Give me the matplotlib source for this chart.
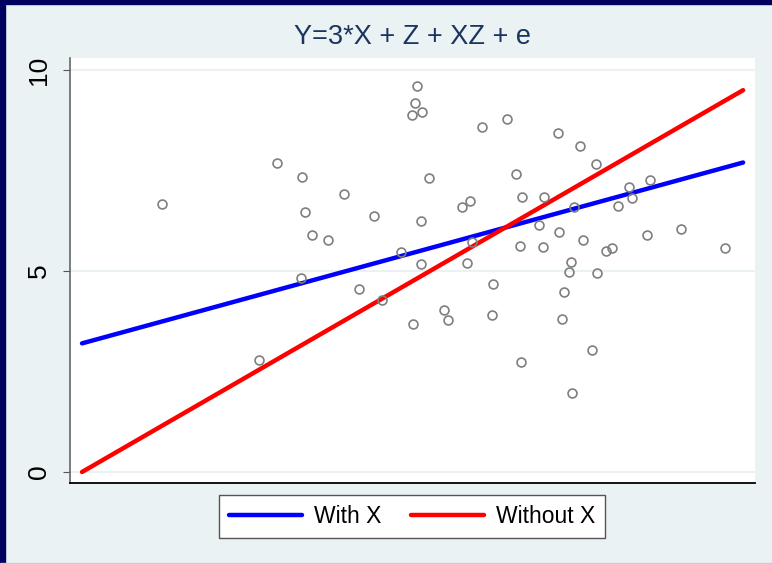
import matplotlib
matplotlib.use('Agg')
import matplotlib.pyplot as plt
from matplotlib.patches import Rectangle
import numpy as np

plt.rcParams['font.family'] = ['Liberation Sans', 'DejaVu Sans']

# simulated sample
x = [1.206, 2.950, 3.333, 3.964, 3.378, 3.480, 3.726, 3.313, 2.673, 4.191,
     5.073, 5.038, 4.997, 5.148, 6.056, 6.430, 7.194, 5.254, 6.566, 4.418,
     5.121, 5.753, 5.865, 6.652, 6.994, 6.914, 7.209, 5.896, 4.821, 6.626,
     6.974, 5.133, 5.820, 4.534, 6.210, 5.480, 5.530, 5.008, 6.198, 6.641,
     7.539, 7.771, 8.588, 8.271, 8.316, 8.104, 7.446, 7.575, 7.923, 8.015,
     8.548, 9.062, 9.720, 7.395, 7.372, 7.796, 7.292, 7.257, 7.711, 7.413]
y = [6.667, 7.694, 7.346, 6.928, 6.468, 5.903, 5.771, 4.826, 2.794, 4.552,
     9.602, 9.172, 8.888, 8.948, 8.575, 8.789, 8.425, 7.306, 7.405, 6.361,
     6.244, 6.592, 6.749, 6.848, 6.853, 6.152, 5.965, 5.729, 5.485, 5.614,
     5.604, 5.182, 5.199, 4.286, 4.689, 4.037, 3.774, 3.674, 3.898, 2.729,
     8.114, 7.662, 7.271, 7.097, 6.816, 6.624, 6.585, 5.771, 5.498, 5.580,
     5.888, 6.045, 5.580, 5.219, 4.968, 4.950, 4.470, 3.818, 3.042, 1.958]

# fitted lines
fit_x = [0, 10]
with_x = [3.2, 7.7]
without_x = [0, 9.5]

bg = '#EAF2F3'
fig = plt.figure(figsize=(7.72, 5.64), dpi=100, facecolor=bg)
ax = fig.add_axes([70/772, 81/564, 685/772, 425/564])
ax.set_facecolor('white')

ax.plot(fit_x, with_x, color='#0000FF', lw=3.2, solid_capstyle='round', label='With X', zorder=2)
ax.plot(fit_x, without_x, color='#FF0000', lw=3.2, solid_capstyle='round', label='Without X', zorder=2)
ax.plot(x, y, 'o', ms=6.4, mfc='none', mec='#7F7F7F', mew=1.2, zorder=3)

ax.set_xlim(-0.182, 10.18)
ax.set_ylim(-0.274, 10.30)

ax.set_yticks([0, 5, 10])
ax.set_yticklabels(['0', '5', '10'], rotation=90, va='center', fontsize=19)
ax.set_xticks([])
ax.tick_params(axis='y', length=5, width=0.8, color='#555555', pad=9)
ax.grid(axis='y', color=bg, lw=1.5, zorder=0)
ax.set_axisbelow(True)

for s in ['top', 'right']:
    ax.spines[s].set_visible(False)
ax.spines['left'].set_color('#666666')
ax.spines['left'].set_linewidth(1.2)
ax.spines['bottom'].set_color('#000000')
ax.spines['bottom'].set_linewidth(1.3)

fig.text(412/772, 1 - 37/564, 'Y=3*X + Z + XZ + e', ha='center', va='center',
         fontsize=19.5, color='#1C3560')

fig.legend(loc='center', bbox_to_anchor=(412/772, 1 - 516.5/564), ncol=2,
           fontsize=16.5, frameon=True, fancybox=False, edgecolor='#555555',
           framealpha=1, handlelength=3.2, handletextpad=0.5, columnspacing=1.3,
           borderpad=0.45)

# frame around the graph window
fig.patches.append(Rectangle((0, 1 - 4/564), 1, 4/564, transform=fig.transFigure,
                             color='#000060', zorder=10))
fig.patches.append(Rectangle((0, 0), 5/772, 1, transform=fig.transFigure,
                             color='#000060', zorder=10))
fig.patches.append(Rectangle((0, 0), 1, 1.5/564, transform=fig.transFigure,
                             color='#C8CED6', zorder=10))

fig.savefig('out.png', dpi=100, facecolor=bg)
